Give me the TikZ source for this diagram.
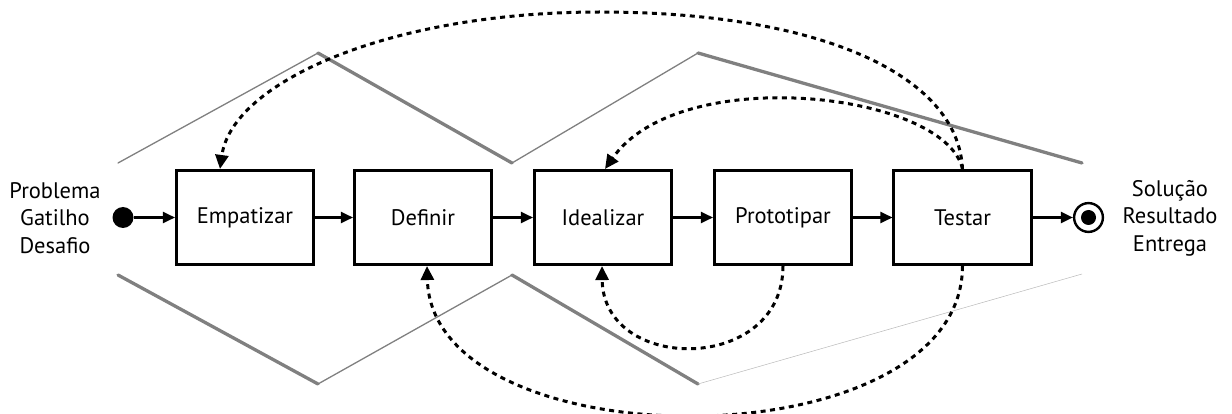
\documentclass[tikz,border=0pt]{standalone}
\usepackage{fontspec}
\setmainfont{PT Sans}
\usetikzlibrary{arrows.meta}
\begin{document}
\begin{tikzpicture}[x=1pt,y=-1pt,
  stage/.style={draw=black, line width=2.6pt, minimum width=137.5pt, minimum height=94.5pt,
    inner sep=0pt, font=\fontsize{22.5}{26}\selectfont},
  endlabel/.style={align=center, font=\fontsize{22.5}{27.5}\selectfont, inner sep=0pt},
  flow/.style={line width=2.2pt, -{Triangle[length=12pt,width=11pt]}},
  loopback/.style={line width=3pt, dash pattern=on 5pt off 4.5pt,
    -{Triangle[length=14pt,width=13pt]}},
  rimthin/.style={draw=gray, line width=1.3pt, line cap=round},
  rimthick/.style={draw=gray, line width=3.3pt, line cap=round},
  rimfaint/.style={draw=gray!55, line width=0.5pt}
]
\useasboundingbox (0,0) rectangle (1232,414);

% upper and lower zigzag rims
\draw[rimthin]  (118,163) -- (318,53);
\draw[rimthick] (318,53)  -- (512,163);
\draw[rimthin]  (512,163) -- (698,53);
\draw[rimthick] (698,53)  -- (1082,163);
\draw[rimthick] (118,275) -- (318,384);
\draw[rimthin]  (318,384) -- (512,275);
\draw[rimthick] (512,275) -- (698,384);
\draw[rimfaint] (698,384) -- (1082,274);

% process stages
\node[stage] (emp)   at (245,217.5)   {Empatizar};
\node[stage] (def)   at (423,217.5)   {Definir};
\node[stage] (idea)  at (603,217.5)   {Idealizar};
\node[stage] (proto) at (783,217.5)   {Prototipar};
\node[stage] (test)  at (962.5,217.5) {Testar};

% start and end markers
\node[circle, fill=black, minimum size=21pt, inner sep=0pt] (start) at (123,217.5) {};
\node[circle, draw=black, line width=2.4pt, minimum size=28.8pt, inner sep=0pt] (finish) at (1088.5,217.5) {};
\node[circle, fill=black, minimum size=15pt, inner sep=0pt] (finishcore) at (finish.center) {};

\node[endlabel] (input)  at (55,218)   {Problema\\Gatilho\\Desafio};
\node[endlabel] (output) at (1170,218) {Solução\\Resultado\\Entrega};

% main flow
\draw[flow] (start) -- (emp);
\draw[flow] (emp) -- (def);
\draw[flow] (def) -- (idea);
\draw[flow] (idea) -- (proto);
\draw[flow] (proto) -- (test);
\draw[flow] (test) -- (finish);

% iteration loops
\draw[loopback] (test.north) .. controls (958,75) and (820,12) .. (600,12)
  .. controls (390,12) and (232,82) .. ([xshift=-25pt]emp.north);
\draw[loopback] (test.north) .. controls (945,92) and (680,62) .. ([xshift=2pt]idea.north);
\draw[loopback] (proto.south) .. controls (783,374) and (603,374) .. ([xshift=-1pt]idea.south);
\draw[loopback] (test.south) .. controls (962,464) and (432,464) .. ([xshift=4pt]def.south);
\end{tikzpicture}
\end{document}
